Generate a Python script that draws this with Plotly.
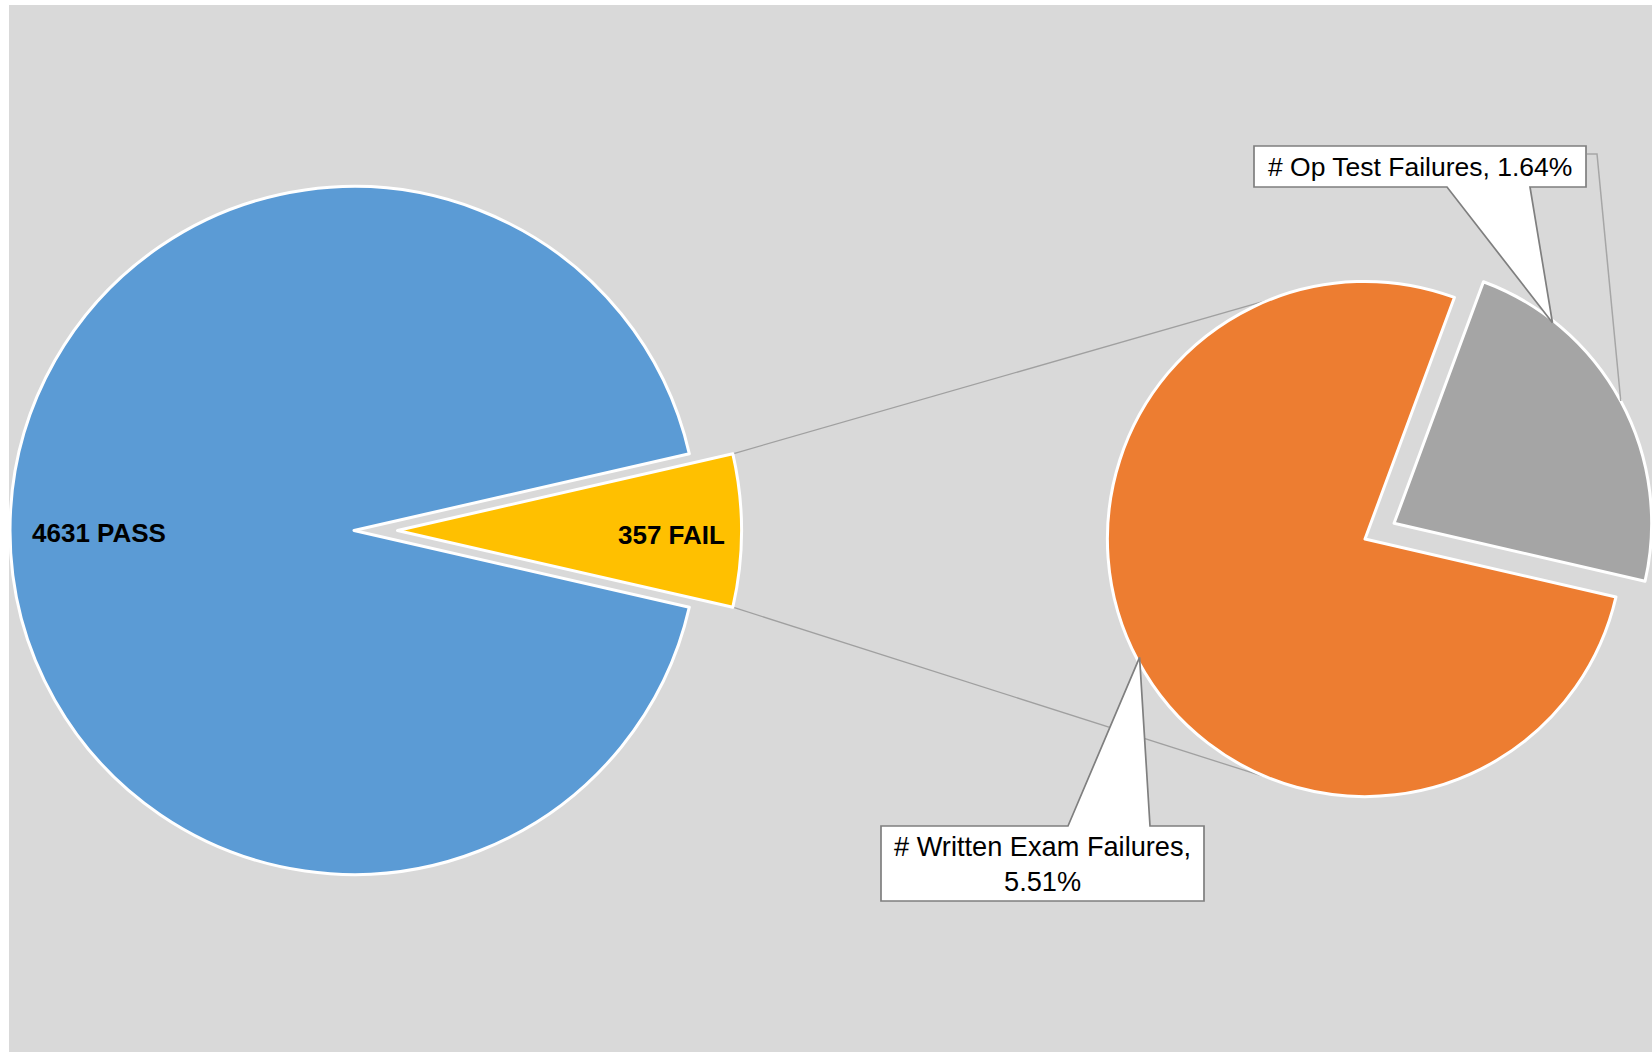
import math
import plotly.graph_objects as go

# ---------------- data ----------------
main_labels = ["PASS", "FAIL"]
main_values = [4631, 357]
fail_labels = ["# Written Exam Failures", "# Op Test Failures"]
fail_values = [275, 82]

main_colors = ["#5B9BD5", "#FFC000"]
fail_colors = ["#ED7D31", "#A5A5A5"]

# ---------------- layout geometry (pixels) ----------------
W, H = 1652, 1053
L_C, L_R, L_PULL = (354.0, 530.5), 344.0, 43.5
R_C, R_R, R_PULL = (1365.0, 539.0), 257.6, 33.0
RIGHT_ROT = 103.0
FONT = "Liberation Sans, Arial, sans-serif"

total = sum(main_values)
left_rot = 90 - 360 * (main_values[0] + main_values[1] / 2) / total


def slice_bounds(values, idx, rot):
    s = sum(values)
    start = rot + 360 * sum(values[:idx]) / s
    return start, start + 360 * values[idx] / s


def polar(c, r, ang):
    a = math.radians(ang)
    return c[0] + r * math.sin(a), c[1] - r * math.cos(a)


def P(x, y):
    return x / W, 1 - y / H


def domain(c, r):
    return dict(x=[(c[0] - r) / W, (c[0] + r) / W],
                y=[1 - (c[1] + r) / H, 1 - (c[1] - r) / H])


def pie(labels, values, colors, show, c, r, rot):
    cols = [colors[i] if i in show else "rgba(0,0,0,0)" for i in range(len(values))]
    widths = [3 if i in show else 0 for i in range(len(values))]
    return go.Pie(labels=labels, values=values, sort=False, direction="clockwise",
                  rotation=rot, marker=dict(colors=cols, line=dict(color="white", width=widths)),
                  textinfo="none", hoverinfo="label+value", domain=domain(c, r),
                  showlegend=False)


fs, fe = slice_bounds(main_values, 1, left_rot)
L_C2 = polar(L_C, L_PULL, (fs + fe) / 2)
os_, oe = slice_bounds(fail_values, 1, RIGHT_ROT)
R_C2 = polar(R_C, R_PULL, (os_ + oe) / 2)

fig = go.Figure()
fig.add_trace(pie(main_labels, main_values, main_colors, [0], L_C, L_R, left_rot))
fig.add_trace(pie(main_labels, main_values, main_colors, [1], L_C2, L_R, left_rot))
fig.add_trace(pie(fail_labels, fail_values, fail_colors, [0], R_C, R_R, RIGHT_ROT))
fig.add_trace(pie(fail_labels, fail_values, fail_colors, [1], R_C2, R_R, RIGHT_ROT))

shapes = []
# background panel
x0, y1 = P(9, 5)
x1, y0 = P(W, 1052)
shapes.append(dict(type="rect", xref="paper", yref="paper", x0=x0, x1=x1, y0=y0, y1=y1,
                   fillcolor="#D9D9D9", line=dict(width=0), layer="below"))
# connector lines from FAIL slice to secondary pie
for a_from, a_to in [(fs, -21.5), (fe, 201.5)]:
    p1 = polar(L_C2, L_R, a_from)
    p2 = polar(R_C, R_R, a_to)
    (ax, ay), (bx, by) = P(*p1), P(*p2)
    shapes.append(dict(type="line", xref="paper", yref="paper", x0=ax, y0=ay, x1=bx, y1=by,
                       line=dict(color="#A0A0A0", width=1.3), layer="below"))


def callout(box, base, tip, top_side):
    bx0, by0, bx1, by1 = box
    ex0, ex1 = base
    if top_side:
        pts = [(bx0, by0), (ex0, by0), tip, (ex1, by0), (bx1, by0), (bx1, by1), (bx0, by1)]
    else:
        pts = [(bx0, by0), (bx1, by0), (bx1, by1), (ex1, by1), tip, (ex0, by1), (bx0, by1)]
    path = "M " + " L ".join("%.5f,%.5f" % P(*p) for p in pts) + " Z"
    return dict(type="path", xref="paper", yref="paper", path=path, fillcolor="white",
                line=dict(color="#7F7F7F", width=1.7), layer="above")


op_tip = polar(R_C2, R_R - 2, 38.3)
wr_tip = polar(R_C, R_R - 3, 242.3)
shapes.append(callout((1254, 146, 1586, 187), (1447, 1530), op_tip, False))
shapes.append(callout((881, 826, 1204, 901), (1068, 1150), wr_tip, True))
# leader line for Op slice
lead_end = polar(R_C2, R_R, (os_ + oe) / 2)
lp = [(1587, 154), (1597, 154), lead_end]
shapes.append(dict(type="path", xref="paper", yref="paper",
                   path="M " + " L ".join("%.5f,%.5f" % P(*p) for p in lp),
                   line=dict(color="#A6A6A6", width=1.5), layer="above"))

ann = []
pct = [v / total * 100 for v in fail_values]
tx, ty = P(1420, 167)
ann.append(dict(xref="paper", yref="paper", x=tx, y=ty, xanchor="center", yanchor="middle",
                text="%s, %.2f%%" % (fail_labels[1], pct[1]), showarrow=False,
                font=dict(family=FONT, size=26.5, color="#000000")))
tx, ty = P(1042.5, 864)
ann.append(dict(xref="paper", yref="paper", x=tx, y=ty, xanchor="center", yanchor="middle",
                text="%s,<br>%.2f%%" % (fail_labels[0], pct[0]), showarrow=False,
                font=dict(family=FONT, size=27.2, color="#000000")))
tx, ty = P(30, 533)
ann.append(dict(xref="paper", yref="paper", x=tx, y=ty, xanchor="left", yanchor="middle",
                text="<b>%d %s</b>" % (main_values[0], main_labels[0]), showarrow=False,
                font=dict(family=FONT, size=26, color="#000000")))
tx, ty = P(727, 535)
ann.append(dict(xref="paper", yref="paper", x=tx, y=ty, xanchor="right", yanchor="middle",
                text="<b>%d %s</b>" % (main_values[1], main_labels[1]), showarrow=False,
                font=dict(family=FONT, size=26, color="#000000")))

fig.update_layout(width=W, height=H, margin=dict(l=0, r=0, t=0, b=0, pad=0),
                  paper_bgcolor="white", plot_bgcolor="white", shapes=shapes,
                  annotations=ann, showlegend=False, font=dict(family=FONT))

fig.write_html("out.html", config={"displayModeBar": False},
               post_script="document.body.style.margin='0';document.body.style.overflow='hidden';")
